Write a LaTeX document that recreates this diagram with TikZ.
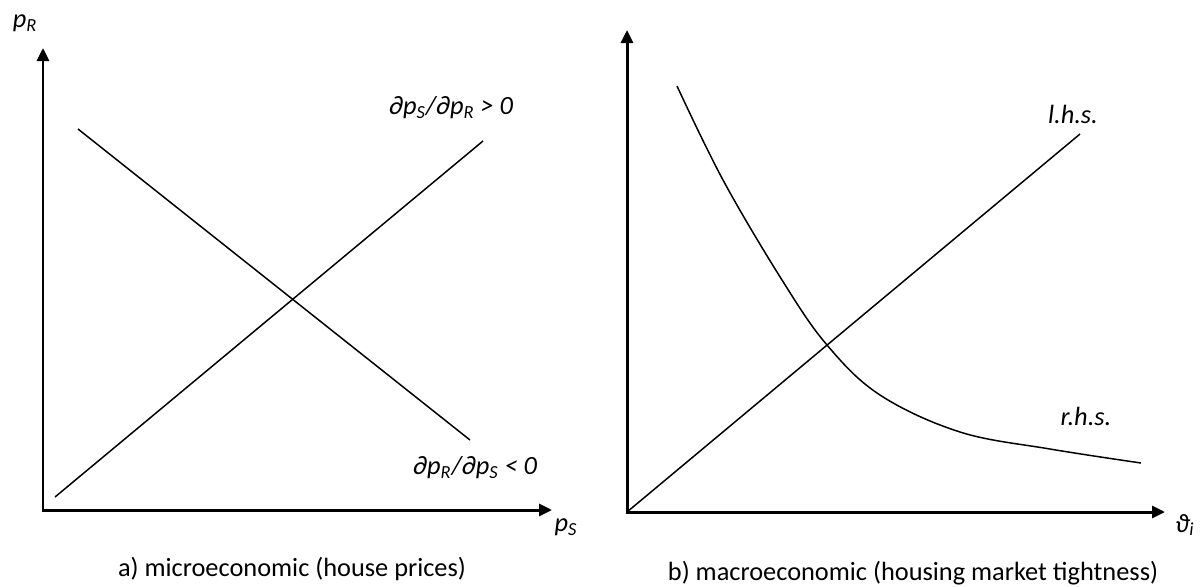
\documentclass[tikz,border=0pt]{standalone}
\usepackage{fontspec}
\setmainfont{Carlito}
\usetikzlibrary{arrows.meta, positioning}
\definecolor{InkBlack}{HTML}{000000}
\tikzset{
  axis/.style={draw=InkBlack, line width=1.7pt, line join=miter, {Triangle[length=2.6mm, width=2.4mm]}-{Triangle[length=2.6mm, width=2.4mm]}},
  curve/.style={draw=InkBlack, line width=0.85pt},
  lbl/.style={font=\fontsize{15}{18}\selectfont\itshape, inner sep=0pt},
  captext/.style={font=\fontsize{15}{18}\selectfont, inner sep=0pt}
}

\begin{document}
\begin{tikzpicture}[x=0.02cm, y=-0.02cm]
\useasboundingbox (0,0) rectangle (1200,586);
\coordinate (oa) at (43,510);
\coordinate (ya) at (43,48);
\coordinate (xa) at (552,510);
\coordinate (ob) at (627,512);
\coordinate (yb) at (627,30);
\coordinate (xb) at (1165,512);
\draw[axis] (ya) -- (oa) -- (xa);
\draw[axis] (yb) -- (ob) -- (xb);
\coordinate (supA) at (55,497);
\coordinate (supB) at (483,141);
\coordinate (demA) at (78,129);
\coordinate (demB) at (470,440);
\draw[curve] (supA) -- (supB);
\draw[curve] (demA) -- (demB);
\coordinate (lhsB) at (1080,134);
\draw[curve] (ob) -- (lhsB);
\draw[curve] plot[smooth, tension=0.6] coordinates {(677,86) (723,180) (782,280) (827,345) (880,395) (960,432) (1050,449) (1141,463)};
\node[lbl] (pR) at (25,23) {p\textsubscript{R}};
\node[lbl] (pS) at (566,527) {p\textsubscript{S}};
\node[lbl] (dSup) at (451,108) {∂p\textsubscript{S}/∂p\textsubscript{R} > 0};
\node[lbl] (dDem) at (475,468) {∂p\textsubscript{R}/∂p\textsubscript{S} < 0};
\node[lbl] (theta) at (1185,525) {ϑ\textsubscript{i}};
\node[lbl] (lhs) at (1073,114) {l.h.s.};
\node[lbl] (rhs) at (1086,416) {r.h.s.};
\node[captext, anchor=base] (capA) at (292,576) {a) microeconomic (house prices)};
\node[captext, anchor=base] (capB) at (913,580) {b) macroeconomic (housing market tightness)};
\end{tikzpicture}
\end{document}
